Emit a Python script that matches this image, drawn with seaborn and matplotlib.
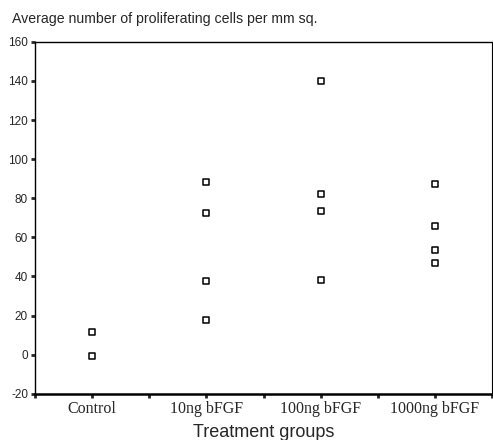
import pandas as pd
import matplotlib.pyplot as plt
import seaborn as sns

# Datos
groups = ["Control", "10ng bFGF", "100ng bFGF", "1000ng bFGF"]
control = [11.4, -0.7]
bfgf_10 = [88.4, 72.3, 37.6, 17.8]
bfgf_100 = [140.2, 82.4, 73.3, 38.1]
bfgf_1000 = [87.5, 65.8, 53.5, 47.0]

data = pd.DataFrame({
    "group": [groups[0]] * len(control) + [groups[1]] * len(bfgf_10)
             + [groups[2]] * len(bfgf_100) + [groups[3]] * len(bfgf_1000),
    "cells": control + bfgf_10 + bfgf_100 + bfgf_1000,
})

sns.set_style("ticks")
plt.rcParams["font.family"] = ["Liberation Sans", "DejaVu Sans"]
plt.rcParams["axes.unicode_minus"] = False

fig = plt.figure(figsize=(4.93, 4.40), dpi=100)
ax = fig.add_axes([0.071, 0.105, 0.927, 0.8])

sns.stripplot(data=data, x="group", y="cells", order=groups, jitter=False,
              marker="s", size=4.5, color="white", edgecolor="black",
              linewidth=1.1, ax=ax)

ax.set_xlim(-0.5, 3.5)
ax.set_ylim(-20, 160)
ax.set_yticks(range(-20, 161, 20))
ax.set_xticks(range(len(groups)))
ax.set_xticks([-0.5, 0.5, 1.5, 2.5, 3.5], minor=True)
ax.set_xticklabels(groups, family="Liberation Serif", fontsize=11.5)
ax.tick_params(axis="y", labelsize=8.5, length=3, width=2, pad=2)
ax.tick_params(axis="x", which="both", length=3, width=2, pad=2)

for side in ["left", "bottom", "top", "right"]:
    ax.spines[side].set_visible(True)
    ax.spines[side].set_color("black")
ax.spines["left"].set_linewidth(1.0)
ax.spines["bottom"].set_linewidth(1.8)
ax.spines["top"].set_linewidth(1.0)
ax.spines["right"].set_linewidth(0.8)

ax.set_xlabel("Treatment groups", fontsize=13, labelpad=5)
ax.set_ylabel("")
fig.text(0.024, 0.957, "Average number of proliferating cells per mm sq.",
         fontsize=10.2, ha="left", va="center")

plt.savefig("out.png", dpi=100)
